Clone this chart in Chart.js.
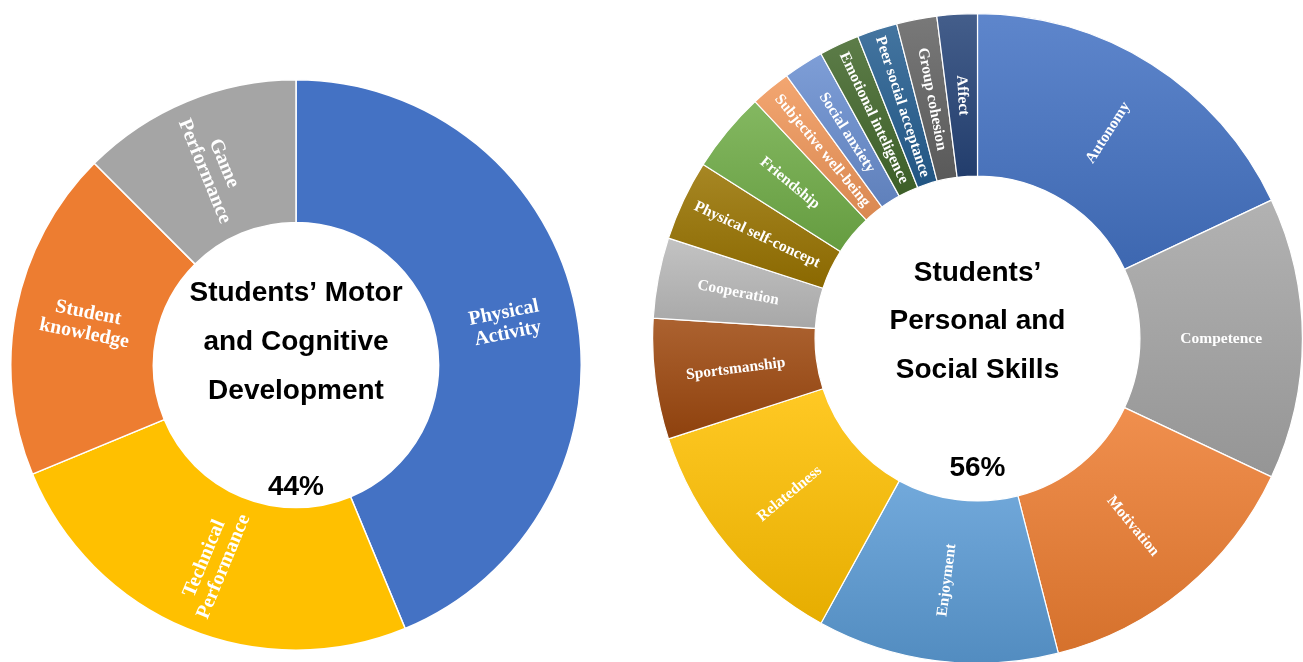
<!DOCTYPE html>
<html>
<head>
<meta charset="utf-8">
<script src="https://cdn.jsdelivr.net/npm/chart.js@4.4.1/dist/chart.umd.min.js"></script>
<style>
  html, body { margin: 0; padding: 0; background: #fff; overflow: hidden; }
  body { width: 1303px; height: 662px; position: relative; }
  .wrap { position: absolute; }
  #motorWrap { left: 10px; top: 79px; width: 572px; height: 572px; }
  #socialWrap { left: 652px; top: 13px; width: 651px; height: 651px; }
</style>
</head>
<body>
<div class="wrap" id="motorWrap"><canvas id="motorChart"></canvas></div>
<div class="wrap" id="socialWrap"><canvas id="socialChart"></canvas></div>
<script>
// left ring
const motorLabels = [['Physical', 'Activity'], ['Technical', 'Performance'], ['Student', 'knowledge'], ['Game', 'Performance']];
const motorValues = [7, 4, 3, 2];
const motorColors = ['#4472C4', '#FFC000', '#ED7D31', '#A5A5A5'];
const motorTitle = ['Students’ Motor', 'and Cognitive', 'Development'];
const motorShare = '44%';

// right ring
const socialLabels = ['Autonomy', 'Competence', 'Motivation', 'Enjoyment', 'Relatedness', 'Sportsmanship',
    'Cooperation', 'Physical self-concept', 'Friendship', 'Subjective well-being', 'Social anxiety',
    'Emotional inteligence', 'Peer social acceptance', 'Group cohesion', 'Affect'];
const socialValues = [9, 7, 7, 6, 6, 3, 2, 2, 2, 1, 1, 1, 1, 1, 1];
const socialColors = ['#4472C4', '#A5A5A5', '#ED7D31', '#5B9BD5', '#FFC000', '#9E480E', '#B9B9B9',
    '#997300', '#70AD47', '#F1975A', '#698ED0', '#43682B', '#255E91', '#636363', '#264478'];
const socialTitle = ['Students’', 'Personal and', 'Social Skills'];
const socialShare = '56%';

function shade(hex, amt) {
    const n = parseInt(hex.slice(1), 16);
    const t = amt < 0 ? 0 : 255, p = Math.abs(amt);
    const c = [n >> 16, (n >> 8) & 255, n & 255].map(v => Math.round(v + (t - v) * p));
    return `rgb(${c[0]},${c[1]},${c[2]})`;
}

// office style top-to-bottom gradient for every slice
function sliceGradient(context) {
    const chart = context.chart, area = chart.chartArea, i = context.dataIndex;
    const base = socialColors[i];
    if (!area || i === undefined) return base;
    const vals = chart.data.datasets[0].data;
    const total = vals.reduce((a, v) => a + v, 0);
    let before = 0;
    for (let k = 0; k < i; k++) before += vals[k];
    const a0 = -Math.PI / 2 + 2 * Math.PI * before / total;
    const a1 = a0 + 2 * Math.PI * vals[i] / total;
    const cy = (area.top + area.bottom) / 2;
    const R = Math.min(area.width, area.height) / 2, r = R * 0.5;
    let top = Infinity, bot = -Infinity;
    for (let k = 0; k <= 24; k++) {
        const a = a0 + (a1 - a0) * k / 24;
        for (const rad of [r, R]) {
            const y = cy + rad * Math.sin(a);
            top = Math.min(top, y);
            bot = Math.max(bot, y);
        }
    }
    const g = chart.ctx.createLinearGradient(0, top, 0, bot + 1);
    g.addColorStop(0, shade(base, 0.14));
    g.addColorStop(1, shade(base, -0.1));
    return g;
}

const ringLabels = {
    id: 'ringLabels',
    afterDatasetsDraw(chart, args, opts) {
        const ctx = chart.ctx;
        const meta = chart.getDatasetMeta(0);
        ctx.save();
        ctx.fillStyle = '#fff';
        ctx.font = `bold ${opts.size}px "Liberation Serif", "Times New Roman", serif`;
        ctx.textAlign = 'center';
        ctx.textBaseline = 'middle';
        meta.data.forEach((arc, i) => {
            const p = arc.getProps(['x', 'y', 'startAngle', 'endAngle', 'innerRadius', 'outerRadius'], true);
            const mid = (p.startAngle + p.endAngle) / 2;
            const rad = (p.innerRadius + p.outerRadius) / 2;
            let rot = mid;
            while (rot > Math.PI / 2) rot -= Math.PI;
            while (rot <= -Math.PI / 2) rot += Math.PI;
            const lines = [].concat(chart.data.labels[i]);
            ctx.save();
            ctx.translate(p.x + rad * Math.cos(mid), p.y + rad * Math.sin(mid));
            ctx.rotate(rot);
            lines.forEach((ln, k) => ctx.fillText(ln, 0, (k - (lines.length - 1) / 2) * opts.lineHeight));
            ctx.restore();
        });
        ctx.restore();
    }
};

const centerText = {
    id: 'centerText',
    afterDraw(chart, args, opts) {
        const ctx = chart.ctx;
        const a = chart.chartArea;
        const cx = (a.left + a.right) / 2, cy = (a.top + a.bottom) / 2;
        ctx.save();
        ctx.fillStyle = '#000';
        ctx.font = 'bold 28px "Liberation Sans", Arial, sans-serif';
        ctx.textAlign = 'center';
        ctx.textBaseline = 'alphabetic';
        opts.lines.forEach((ln, k) => ctx.fillText(ln, cx, cy + opts.firstY + k * opts.gap));
        ctx.fillText(opts.share, cx, cy + opts.shareY);
        ctx.restore();
    }
};

new Chart(document.getElementById('motorChart'), {
    type: 'doughnut',
    data: {
        labels: motorLabels,
        datasets: [{
            data: motorValues,
            backgroundColor: motorColors,
            borderColor: '#fff',
            borderWidth: 1.5,
            hoverOffset: 0
        }]
    },
    options: {
        responsive: true,
        maintainAspectRatio: false,
        animation: false,
        cutout: '50%',
        plugins: {
            legend: { display: false },
            tooltip: { enabled: false },
            ringLabels: { size: 20, lineHeight: 21 },
            centerText: { lines: motorTitle, share: motorShare, firstY: -64, gap: 49, shareY: 130 }
        }
    },
    plugins: [ringLabels, centerText]
});

new Chart(document.getElementById('socialChart'), {
    type: 'doughnut',
    data: {
        labels: socialLabels,
        datasets: [{
            data: socialValues,
            backgroundColor: sliceGradient,
            borderColor: '#fff',
            borderWidth: 1.2,
            hoverOffset: 0
        }]
    },
    options: {
        responsive: true,
        maintainAspectRatio: false,
        animation: false,
        cutout: '50%',
        plugins: {
            legend: { display: false },
            tooltip: { enabled: false },
            ringLabels: { size: 15.5, lineHeight: 16 },
            centerText: { lines: socialTitle, share: socialShare, firstY: -58, gap: 48.5, shareY: 137 }
        }
    },
    plugins: [ringLabels, centerText]
});
</script>
</body>
</html>
